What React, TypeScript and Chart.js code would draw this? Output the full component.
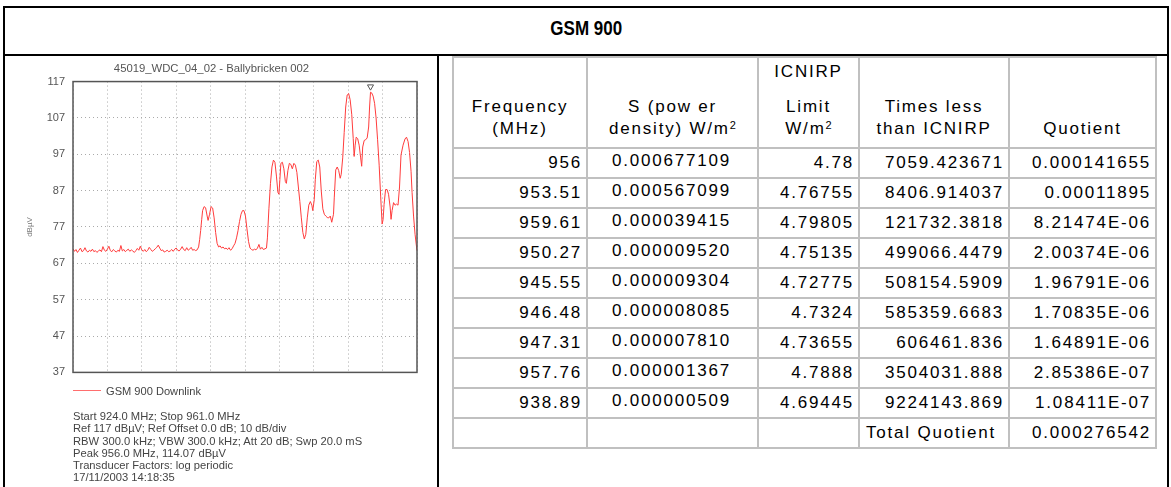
import React, { useEffect, useRef } from 'react';
import { Chart, registerables } from 'chart.js';

Chart.register(...registerables);

// ---------- DATA ----------
const PAGE_TITLE = 'GSM 900';
const CHART_TITLE = '45019_WDC_04_02 - Ballybricken 002';
const SERIES_LABEL = 'GSM 900 Downlink';
const Y_UNIT = 'dBµV';

const X_MIN_MHZ = 924;
const X_MAX_MHZ = 961;
const X_STEP_MHZ = 3.7;
const Y_MIN_DBUV = 37;
const Y_MAX_DBUV = 117;
const Y_STEP_DB = 10;

const traceMHz = [
  924.00, 924.16, 924.32, 924.48, 924.64, 924.80, 924.97, 925.13, 925.29, 925.45,
  925.61, 925.77, 925.93, 926.09, 926.25, 926.41, 926.57, 926.73, 926.90, 927.06,
  927.22, 927.38, 927.54, 927.70, 927.86, 928.02, 928.18, 928.34, 928.50, 928.67,
  928.83, 928.99, 929.15, 929.31, 929.47, 929.63, 929.79, 929.95, 930.11, 930.27,
  930.43, 930.60, 930.76, 930.92, 931.08, 931.24, 931.40, 931.56, 931.72, 931.88,
  932.04, 932.20, 932.37, 932.53, 932.69, 932.85, 933.01, 933.17, 933.33, 933.49,
  933.65, 933.81, 933.97, 934.13, 934.30, 934.46, 934.62, 934.78, 934.94, 935.10,
  935.26, 935.42, 935.58, 935.74, 935.90, 936.07, 936.23, 936.39, 936.55, 936.71,
  936.87, 937.03, 937.19, 937.35, 937.51,
  937.62, 937.73, 937.84, 937.94, 938.10, 938.26, 938.43, 938.53, 938.69, 938.85,
  939.02, 939.18, 939.34, 939.50, 939.66, 939.82, 939.98, 940.14, 940.30, 940.46,
  940.62, 940.78, 940.95, 941.11, 941.27, 941.43, 941.59, 941.75, 941.91, 942.07,
  942.23, 942.39, 942.55, 942.71, 942.88, 943.04, 943.20, 943.36, 943.52, 943.68,
  943.84, 944.00, 944.16, 944.32, 944.48, 944.65, 944.81, 944.91, 945.07, 945.24,
  945.40, 945.56, 945.72, 945.88, 946.04, 946.15, 946.25, 946.36, 946.52, 946.68,
  946.84, 946.95, 947.11, 947.27, 947.43, 947.59, 947.76, 947.92, 948.08, 948.24,
  948.40, 948.56, 948.72, 948.88, 949.04, 949.20, 949.36, 949.53, 949.69, 949.79,
  949.95, 950.06, 950.22, 950.38, 950.54, 950.70, 950.87, 951.03, 951.19, 951.35,
  951.51, 951.67, 951.83, 952.02, 952.10, 952.26, 952.42, 952.58, 952.74, 952.85,
  953.01, 953.17, 953.33, 953.49, 953.65, 953.81, 953.98, 954.14, 954.24, 954.35,
  954.46, 954.62, 954.78, 954.94, 955.05, 955.16, 955.32, 955.48, 955.64, 955.80,
  955.90, 956.00, 956.12, 956.28, 956.44, 956.60, 956.76, 956.93, 957.09, 957.25,
  957.35, 957.46, 957.62, 957.78, 957.94, 958.11, 958.21, 958.32, 958.48, 958.64,
  958.80, 958.96, 959.12, 959.28, 959.50, 959.71, 959.87, 960.04, 960.20, 960.36,
  960.47, 960.63, 960.79, 960.95, 961.00,
];

const traceDbuv = [
  71.0, 70.3, 70.8, 70.0, 70.6, 71.2, 70.2, 70.5, 71.3, 70.4,
  70.1, 70.6, 70.3, 70.9, 70.2, 70.5, 70.0, 70.4, 70.7, 70.2,
  71.6, 70.6, 70.3, 70.9, 71.7, 70.5, 70.2, 70.8, 70.4, 70.1,
  70.6, 70.3, 71.9, 70.4, 70.8, 70.2, 70.6, 70.9, 70.3, 70.7,
  70.4, 70.0, 70.5, 71.1, 70.6, 71.7, 70.7, 70.3, 70.8, 70.2,
  70.6, 71.4, 70.8, 70.3, 70.6, 71.0, 71.4, 72.0, 71.2, 70.5,
  70.7, 70.1, 70.3, 70.6, 70.2, 70.4, 70.8, 70.3, 70.9, 71.2,
  70.6, 70.4, 70.9, 71.6, 70.8, 70.5, 71.3, 70.6, 70.9, 71.4,
  70.6, 70.8, 70.5, 70.7, 71.5,
  73.5, 76.0, 79.0, 81.5, 82.6, 82.3, 80.0, 78.8, 80.5, 82.6,
  82.2, 79.5, 75.5, 72.5, 71.5, 71.8, 71.2, 71.5, 71.0, 71.2,
  70.8, 71.3, 70.6, 71.0, 71.8, 72.5, 74.0, 76.0, 78.5, 80.5,
  81.5, 81.5, 80.0, 76.5, 73.0, 71.2, 70.8, 70.6, 70.9, 70.7,
  71.2, 72.2, 70.9, 71.4, 70.8, 71.0, 71.2, 74.0, 82.0, 89.0,
  93.5, 95.4, 94.8, 91.0, 86.5, 86.0, 90.0, 94.5, 94.8, 93.0,
  89.5, 89.0, 92.5, 94.5, 94.2, 93.0, 94.5, 94.0, 92.0, 88.0,
  84.0, 79.5, 75.5, 73.7, 75.0, 79.5, 83.0, 84.0, 83.0, 81.5,
  84.5, 90.0, 95.0, 95.4, 93.5, 87.0, 82.0, 80.5, 80.0, 79.6,
  79.5, 80.0, 78.3, 80.5, 85.0, 92.7, 93.5, 92.5, 90.4, 91.5,
  96.0, 103.0, 110.0, 113.3, 113.7, 112.0, 108.0, 101.3, 96.4, 99.5,
  101.7, 101.3, 99.5, 96.0, 93.7, 99.0, 100.8, 101.0, 101.5, 104.5,
  110.0, 114.07, 113.9, 113.0, 111.0, 107.0, 101.0, 94.0, 85.5, 77.8,
  79.0, 83.2, 87.3, 87.3, 86.0, 82.5, 79.1, 81.5, 83.7, 83.0,
  83.3, 83.0, 88.0, 96.8, 99.5, 101.2, 101.7, 100.5, 97.5, 92.3,
  86.5, 80.0, 75.0, 71.5, 70.5,
];

const peakMHz = [956.0];
const peakMarkerDbuv = [115.6];

const infoLines = [
  'Start 924.0 MHz; Stop 961.0 MHz',
  'Ref 117 dBµV; Ref Offset 0.0 dB; 10 dB/div',
  'RBW 300.0 kHz; VBW 300.0 kHz; Att 20 dB; Swp 20.0 mS',
  'Peak 956.0 MHz, 114.07 dBµV',
  'Transducer Factors: log periodic',
  '17/11/2003 14:18:35',
];

// Table data
const frequencyMHz = ['956', '953.51', '959.61', '950.27', '945.55', '946.48', '947.31', '957.76', '938.89'];
const powerDensity = ['0.000677109', '0.000567099', '0.000039415', '0.000009520', '0.000009304', '0.000008085', '0.000007810', '0.000001367', '0.000000509'];
const icnirpLimit = ['4.78', '4.76755', '4.79805', '4.75135', '4.72775', '4.7324', '4.73655', '4.7888', '4.69445'];
const timesLess = ['7059.423671', '8406.914037', '121732.3818', '499066.4479', '508154.5909', '585359.6683', '606461.836', '3504031.888', '9224143.869'];
const quotient = ['0.000141655', '0.00011895', '8.21474E-06', '2.00374E-06', '1.96791E-06', '1.70835E-06', '1.64891E-06', '2.85386E-07', '1.08411E-07'];
const TOTAL_LABEL = 'Total Quotient';
const TOTAL_VALUE = '0.000276542';

// ---------- STYLE / LAYOUT ----------
const FONT = "'Liberation Sans', Arial, Helvetica, sans-serif";
const GRID_COLOR = '#aaaaaa';
const TABLE_BORDER = '2px solid #c0c0c0';
const COL_WIDTHS = [134, 171, 101, 150, 147];

const framePlugin = {
  id: 'plotFrame',
  afterDatasetsDraw(chart: any) {
    const { ctx, chartArea: a } = chart;
    ctx.save();
    ctx.strokeStyle = '#555';
    ctx.lineWidth = 1.5;
    ctx.strokeRect(a.left, a.top, a.right - a.left, a.bottom - a.top);
    ctx.restore();
  },
};

function SpectrumChart() {
  const ref = useRef<HTMLCanvasElement>(null);
  useEffect(() => {
    if (!ref.current) return;
    const chart = new Chart(ref.current, {
      type: 'line',
      data: {
        datasets: [
          {
            label: SERIES_LABEL,
            data: traceMHz.map((f, i) => ({ x: f, y: traceDbuv[i] })),
            borderColor: 'rgb(255,60,60)',
            backgroundColor: 'rgb(255,60,60)',
            borderWidth: 1,
            pointRadius: 0,
            tension: 0,
            fill: false,
          },
          {
            label: 'Peak',
            data: peakMHz.map((f, i) => ({ x: f, y: peakMarkerDbuv[i] })),
            showLine: false,
            pointStyle: 'triangle',
            rotation: 180,
            pointRadius: 3.5,
            borderColor: '#555',
            backgroundColor: '#fff',
            borderWidth: 1,
          },
        ],
      } as any,
      options: {
        animation: false,
        responsive: false,
        maintainAspectRatio: false,
        layout: { padding: { left: 0, right: 20, top: 0, bottom: 0 } },
        plugins: {
          legend: { display: false },
          tooltip: { enabled: false },
          title: {
            display: true,
            text: CHART_TITLE,
            color: '#555',
            font: { family: FONT, size: 11.3, weight: 'normal' },
            padding: { top: 5.5, bottom: 5.5 },
          },
        },
        scales: {
          x: {
            type: 'linear',
            min: X_MIN_MHZ,
            max: X_MAX_MHZ,
            ticks: { display: false, stepSize: X_STEP_MHZ },
            grid: { color: GRID_COLOR, drawTicks: false, lineWidth: 1 },
            border: { display: false, dash: [1, 3] },
            afterFit: (s: any) => { s.height = 9; },
          },
          y: {
            type: 'linear',
            min: Y_MIN_DBUV,
            max: Y_MAX_DBUV,
            ticks: { stepSize: Y_STEP_DB, color: '#555', font: { family: FONT, size: 11 }, padding: 8 },
            grid: { color: GRID_COLOR, drawTicks: false, lineWidth: 1 },
            border: { display: false, dash: [1, 3] },
            title: {
              display: true,
              text: Y_UNIT,
              color: '#777',
              font: { family: FONT, size: 8 },
              padding: { top: 19, bottom: 0 },
            },
            afterFit: (s: any) => { s.width = 67; },
          },
        },
      } as any,
      plugins: [framePlugin],
    });
    return () => chart.destroy();
  }, []);
  return (
    <canvas
      ref={ref}
      width={431}
      height={330}
      style={{ position: 'absolute', left: 6, top: 57, width: 431, height: 330 }}
    />
  );
}

const numCell: React.CSSProperties = {
  border: TABLE_BORDER,
  textAlign: 'right',
  verticalAlign: 'middle',
  padding: '0 4px 0 2px',
  whiteSpace: 'nowrap',
  overflow: 'hidden',
};
const centerCell: React.CSSProperties = {
  ...numCell,
  textAlign: 'center',
  paddingBottom: 4,
};
const headCell: React.CSSProperties = {
  border: TABLE_BORDER,
  textAlign: 'center',
  verticalAlign: 'bottom',
  lineHeight: '22px',
  paddingBottom: 7,
  whiteSpace: 'nowrap',
};
const sup: React.CSSProperties = { fontSize: 11, verticalAlign: 'top', lineHeight: '14px', letterSpacing: 0 };

function DataTable() {
  return (
    <table
      style={{
        position: 'absolute',
        left: 452,
        top: 56,
        width: 705,
        borderCollapse: 'collapse',
        tableLayout: 'fixed',
        fontFamily: FONT,
        fontSize: 17,
        letterSpacing: '1.8px',
        color: '#000',
      }}
    >
      <colgroup>
        {COL_WIDTHS.map((w, i) => (
          <col key={i} style={{ width: w }} />
        ))}
      </colgroup>
      <tbody>
        <tr style={{ height: 91 }}>
          <td style={headCell}>Frequency<br />(MHz)</td>
          <td style={headCell}>S (pow er<br />density) W/m<span style={sup}>2</span></td>
          <td style={headCell}>
            <div style={{ marginBottom: 13 }}>ICNIRP</div>
            Limit<br />W/m<span style={sup}>2</span>
          </td>
          <td style={headCell}>Times less<br />than ICNIRP</td>
          <td style={headCell}>Quotient</td>
        </tr>
        {frequencyMHz.map((f, i) => (
          <tr key={i} style={{ height: 30 }}>
            <td style={numCell}>{f}</td>
            <td style={centerCell}>{powerDensity[i]}</td>
            <td style={numCell}>{icnirpLimit[i]}</td>
            <td style={numCell}>{timesLess[i]}</td>
            <td style={numCell}>{quotient[i]}</td>
          </tr>
        ))}
        <tr style={{ height: 30 }}>
          <td style={numCell}></td>
          <td style={numCell}></td>
          <td style={numCell}></td>
          <td style={{ ...numCell, textAlign: 'left', paddingLeft: 6 }}>{TOTAL_LABEL}</td>
          <td style={numCell}>{TOTAL_VALUE}</td>
        </tr>
      </tbody>
    </table>
  );
}

export default function App() {
  return (
    <div
      style={{
        position: 'absolute',
        left: 0,
        top: 0,
        width: 1171,
        height: 487,
        overflow: 'hidden',
        background: '#fff',
        fontFamily: FONT,
      }}
    >
      {/* outer frame */}
      <div
        style={{
          position: 'absolute',
          left: 3,
          top: 6,
          width: 1166,
          height: 500,
          border: '2px solid #000',
          boxSizing: 'border-box',
        }}
      />
      {/* title row */}
      <div
        style={{
          position: 'absolute',
          left: 5,
          top: 8,
          width: 1162,
          height: 46,
          display: 'flex',
          alignItems: 'center',
          justifyContent: 'center',
        }}
      >
        <div
          style={{
            fontWeight: 'bold',
            fontSize: 20,
            transform: 'scaleX(0.85)',
            marginTop: -6,
            color: '#000',
          }}
        >
          {PAGE_TITLE}
        </div>
      </div>
      <div style={{ position: 'absolute', left: 3, top: 54, width: 1166, height: 2, background: '#000' }} />
      <div style={{ position: 'absolute', left: 437, top: 55, width: 2, height: 440, background: '#000' }} />

      <SpectrumChart />

      {/* legend */}
      <div style={{ position: 'absolute', left: 73, top: 390, width: 28, height: 1, background: 'rgb(255,110,110)' }} />
      <div
        style={{
          position: 'absolute',
          left: 106,
          top: 384,
          fontSize: 11.1,
          lineHeight: '14px',
          color: '#444',
          whiteSpace: 'nowrap',
        }}
      >
        {SERIES_LABEL}
      </div>
      {/* info */}
      <div
        style={{
          position: 'absolute',
          left: 73,
          top: 410,
          fontSize: 11.2,
          lineHeight: '12.3px',
          color: '#444',
          whiteSpace: 'nowrap',
        }}
      >
        {infoLines.map((l, i) => (
          <div key={i}>{l}</div>
        ))}
      </div>

      <DataTable />
    </div>
  );
}
